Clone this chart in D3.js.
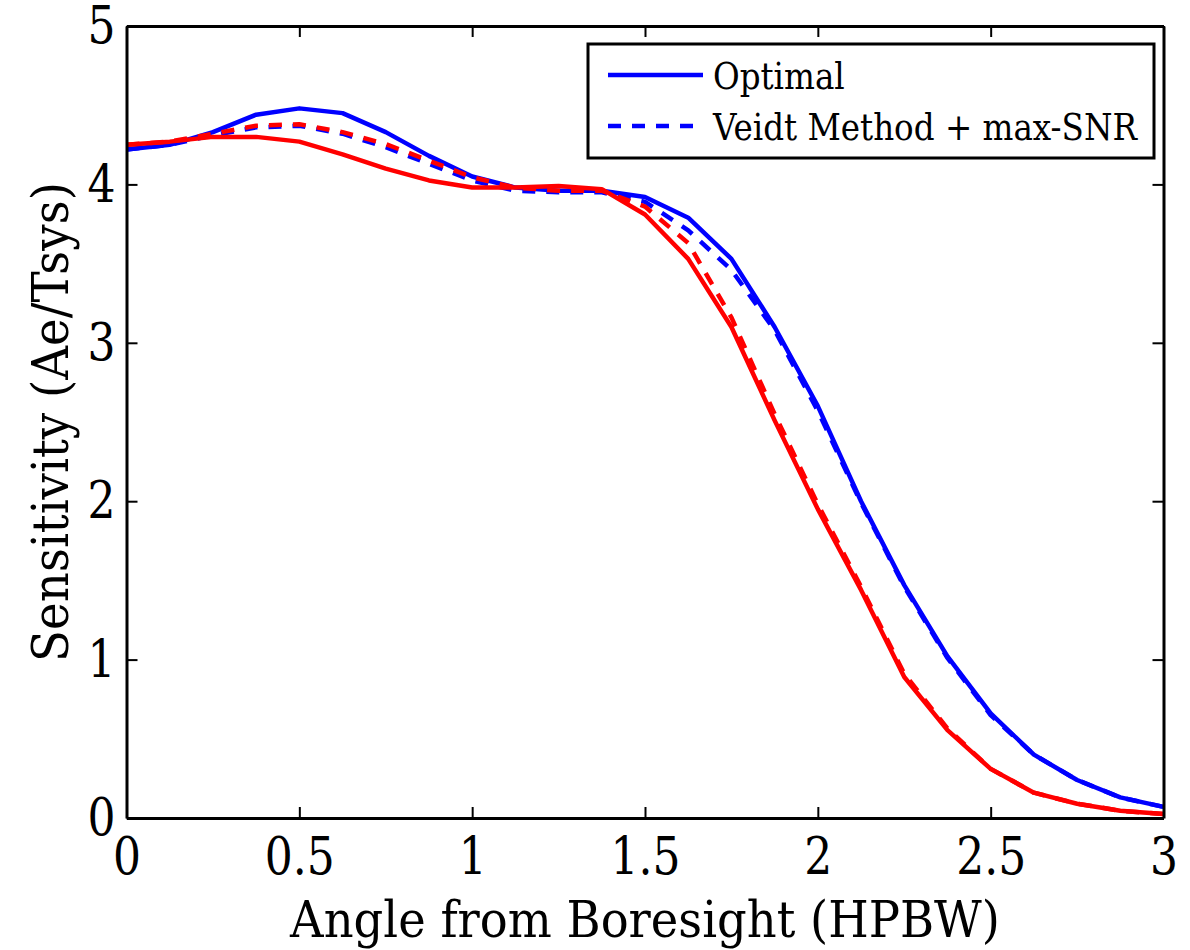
<!DOCTYPE html>
<html>
<head>
<meta charset="utf-8">
<script src="https://cdn.jsdelivr.net/npm/d3@7"></script>
<style>
  body { margin: 0; background: #fff; }
  svg text { font-family: "DejaVu Serif", serif !important; }
</style>
</head>
<body>
<div id="chart"></div>
<script>
// angle from boresight (HPBW)
const angles = [0, 0.125, 0.25, 0.375, 0.5, 0.625, 0.75, 0.875, 1, 1.125, 1.25, 1.375,
    1.5, 1.625, 1.75, 1.875, 2, 2.125, 2.25, 2.375, 2.5, 2.625, 2.75, 2.875, 3];

// blue curves
const optimalBlue = [4.22, 4.25, 4.33, 4.44, 4.48, 4.45, 4.33, 4.18, 4.05, 3.98, 3.96, 3.96,
    3.92, 3.79, 3.53, 3.10, 2.60, 2.00, 1.47, 1.02, 0.66, 0.40, 0.24, 0.13, 0.07];
const veidtBlue = [4.22, 4.25, 4.31, 4.36, 4.37, 4.32, 4.235, 4.13, 4.025, 3.96, 3.95, 3.95,
    3.89, 3.71, 3.46, 3.08, 2.57, 1.99, 1.46, 1.01, 0.65, 0.40, 0.24, 0.13, 0.07];

// red curves
const optimalRed = [4.25, 4.27, 4.30, 4.30, 4.27, 4.19, 4.10, 4.025, 3.98, 3.98, 3.99, 3.97,
    3.81, 3.53, 3.10, 2.51, 1.95, 1.44, 0.89, 0.555, 0.31, 0.16, 0.09, 0.046, 0.025];
const veidtRed = [4.25, 4.27, 4.32, 4.37, 4.38, 4.33, 4.255, 4.15, 4.045, 3.98, 3.96, 3.96,
    3.86, 3.63, 3.16, 2.55, 1.98, 1.46, 0.91, 0.565, 0.31, 0.16, 0.09, 0.046, 0.025];

const xTicks = [0, 0.5, 1, 1.5, 2, 2.5, 3];
const yTicks = [0, 1, 2, 3, 4, 5];

const legendLabels = ["Optimal", "Veidt Method + max-SNR"];

const width = 1190;
const height = 950;
const margin = { top: 26, right: 26.5, bottom: 132, left: 126.5 };

const svg = d3.select("#chart")
    .append("svg")
    .attr("width", width)
    .attr("height", height);

// the reference font is narrow: keep the height, squeeze the width to what the reference shows
function squeeze(text, target) {
    const w = text.node().getComputedTextLength();
    return Math.min(1, target / w);
}

const x = d3.scaleLinear()
    .domain([0, 3])
    .range([margin.left, width - margin.right]);

const y = d3.scaleLinear()
    .domain([0, 5])
    .range([height - margin.bottom, margin.top]);

const series = [
    { values: optimalBlue, color: "#0000ff", dash: null },
    { values: veidtBlue, color: "#0000ff", dash: "13,11" },
    { values: optimalRed, color: "#ff0000", dash: null },
    { values: veidtRed, color: "#ff0000", dash: "13,11" }
];

const line = d3.line()
    .x(d => x(d[0]))
    .y(d => y(d[1]));

// curves
svg.selectAll(".curve")
    .data(series)
    .enter()
    .append("path")
    .attr("class", "curve")
    .attr("d", s => line(angles.map((a, i) => [a, s.values[i]])))
    .attr("fill", "none")
    .attr("stroke", s => s.color)
    .attr("stroke-width", 4.5)
    .attr("stroke-linejoin", "round")
    .attr("stroke-dasharray", s => s.dash);

// tick labels: "0.5" is about 70px wide in the reference
const tickFont = 52;
const probe = svg.append("text").attr("font-size", tickFont).text("0.5");
const tickSx = squeeze(probe, 70);
probe.remove();

// axes, ticks pointing inward on all four sides
const tick = 11;
const xAxisBottom = svg.append("g")
    .attr("transform", `translate(0,${height - margin.bottom})`)
    .call(d3.axisBottom(x).tickValues(xTicks).tickFormat(d3.format("")).tickSize(-tick).tickSizeOuter(0).tickPadding(19));
const yAxisLeft = svg.append("g")
    .attr("transform", `translate(${margin.left},0)`)
    .call(d3.axisLeft(y).tickValues(yTicks).tickFormat(d3.format("")).tickSize(-tick).tickSizeOuter(0).tickPadding(11 / tickSx));
const xAxisTop = svg.append("g")
    .attr("transform", `translate(0,${margin.top})`)
    .call(d3.axisTop(x).tickValues(xTicks).tickFormat("").tickSize(-tick).tickSizeOuter(0));
const yAxisRight = svg.append("g")
    .attr("transform", `translate(${width - margin.right},0)`)
    .call(d3.axisRight(y).tickValues(yTicks).tickFormat("").tickSize(-tick).tickSizeOuter(0));

[xAxisBottom, yAxisLeft, xAxisTop, yAxisRight].forEach(g => {
    g.attr("font-size", tickFont);
    g.selectAll("path.domain").attr("stroke", "#000").attr("stroke-width", 3);
    g.selectAll(".tick line").attr("stroke", "#000").attr("stroke-width", 2);
    g.selectAll(".tick text").attr("fill", "#000").attr("transform", `scale(${tickSx},1)`);
});

// axis labels
const labelFont = 51;
const xLabelG = svg.append("g")
    .attr("transform", `translate(${(margin.left + width - margin.right) / 2},937)`);
const xLabel = xLabelG.append("text")
    .attr("text-anchor", "middle")
    .attr("font-size", labelFont)
    .text("Angle from Boresight (HPBW)");
xLabel.attr("transform", `scale(${squeeze(xLabel, 710)},1)`);

const yLabelG = svg.append("g")
    .attr("transform", `translate(68,${(margin.top + height - margin.bottom) / 2}) rotate(-90)`);
const yLabel = yLabelG.append("text")
    .attr("text-anchor", "middle")
    .attr("font-size", labelFont)
    .text("Sensitivity (Ae/Tsys)");
yLabel.attr("transform", `scale(${squeeze(yLabel, 480)},1)`);

// legend
const legend = svg.append("g");
legend.append("rect")
    .attr("x", 588)
    .attr("y", 44)
    .attr("width", 566)
    .attr("height", 114)
    .attr("fill", "#fff")
    .attr("stroke", "#000")
    .attr("stroke-width", 3);

const items = legend.selectAll(".item")
    .data(legendLabels)
    .enter()
    .append("g")
    .attr("class", "item")
    .attr("transform", (d, i) => `translate(0,${75 + i * 51})`);

items.append("line")
    .attr("x1", 608)
    .attr("x2", 703)
    .attr("stroke", "#0000ff")
    .attr("stroke-width", 4.5)
    .attr("stroke-dasharray", (d, i) => series[i].dash);

const legendText = items.append("g")
    .attr("transform", "translate(713,14)")
    .append("text")
    .attr("font-size", 37)
    .text(d => d);
const legendSx = squeeze(legendText.filter((d, i) => i === 1), 424);
legendText.attr("transform", `scale(${legendSx},1)`);
</script>
</body>
</html>
